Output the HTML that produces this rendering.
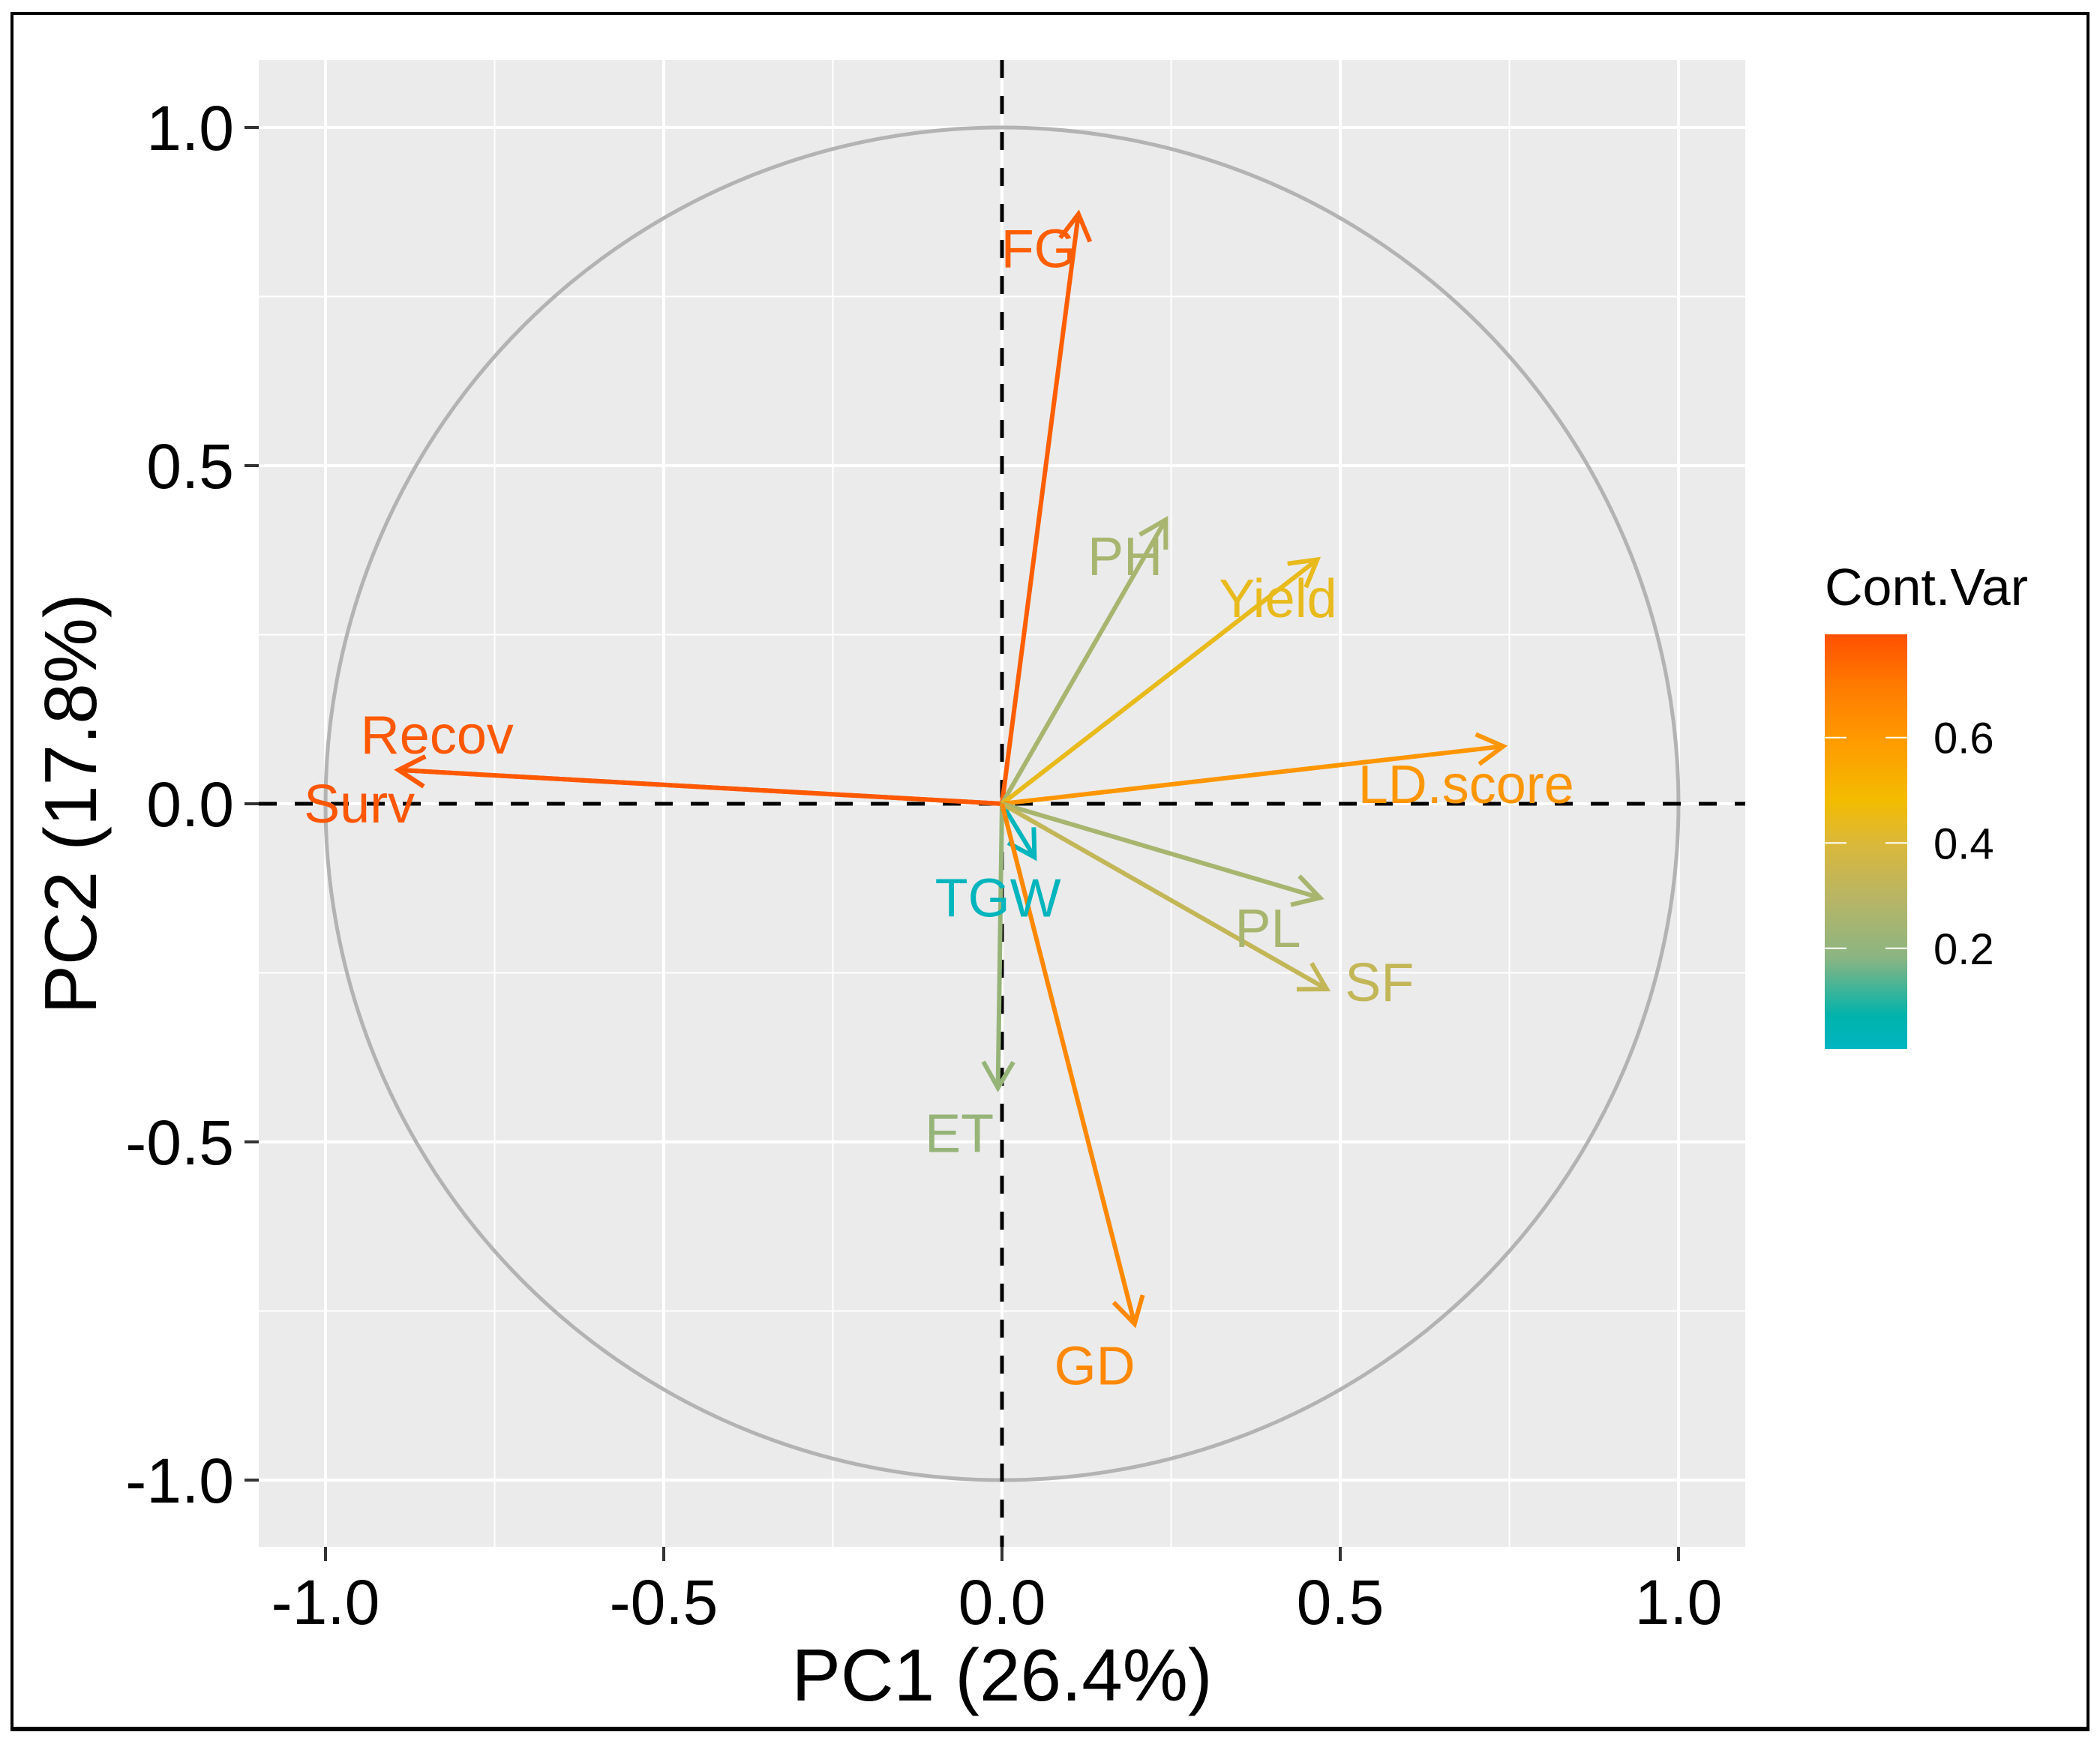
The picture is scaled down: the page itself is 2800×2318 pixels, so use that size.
<!DOCTYPE html>
<html><head><meta charset="utf-8">
<style>
html,body{margin:0;padding:0;background:#fff;}
svg{display:block;font-family:"Liberation Sans",Arial,sans-serif;}
</style></head>
<body>
<svg id="chart" width="2800" height="2318" viewBox="0 0 2800 2318" xmlns="http://www.w3.org/2000/svg">
<defs>
<linearGradient id="cgrad" x1="0" y1="1" x2="0" y2="0">
<stop offset="0" stop-color="#00b5c2"/>
<stop offset="0.08" stop-color="#00b3ab"/>
<stop offset="0.22" stop-color="#8bb582"/>
<stop offset="0.36" stop-color="#b7b566"/>
<stop offset="0.5" stop-color="#dcb838"/>
<stop offset="0.6" stop-color="#f3bc00"/>
<stop offset="0.75" stop-color="#ff9900"/>
<stop offset="0.87" stop-color="#ff7c00"/>
<stop offset="1" stop-color="#ff5000"/>
</linearGradient>
<clipPath id="panelclip"><rect x="345" y="80" width="1982" height="1983"/></clipPath>
</defs>
<rect x="16" y="18" width="2768" height="2287" fill="none" stroke="#000" stroke-width="4"/>
<line x1="14" y1="2306" x2="2786" y2="2306" stroke="#000" stroke-width="6"/>
<rect x="345" y="80" width="1982" height="1983" fill="#ebebeb"/>
<g id="grid"></g>
<g id="circle"></g>
<g id="zerolines"></g>
<g id="arrows" clip-path="url(#panelclip)"></g>
<g id="labels"></g>
<g id="axes"></g>
<text x="1336" y="2268" font-size="98" text-anchor="middle" fill="#000">PC1 (26.4%)</text>
<text transform="translate(128,1072) rotate(-90)" font-size="98" text-anchor="middle" fill="#000">PC2 (17.8%)</text>
<g>
<text x="2433" y="807" font-size="70" fill="#000">Cont.Var</text>
<rect x="2433" y="846" width="110" height="553" fill="url(#cgrad)"/>
<g id="legendticks"></g>
</g>
</svg>
<script>
const varNames = ["Surv","Recov","FG","PH","Yield","LD.score","TGW","PL","SF","ET","GD"];
const pc1 = [-0.892, -0.892, 0.113, 0.242, 0.466, 0.741, 0.048, 0.470, 0.480, -0.006, 0.196];
const pc2 = [0.050, 0.050, 0.872, 0.420, 0.361, 0.085, -0.079, -0.139, -0.274, -0.420, -0.769];
const contrib = [0.78, 0.77, 0.75, 0.25, 0.38, 0.55, 0.02, 0.25, 0.32, 0.2, 0.6];
const labelX = [-0.95, -0.835, 0.054, 0.182, 0.408, 0.686, -0.006, 0.393, 0.558, -0.063, 0.137];
const labelY = [0.0, 0.102, 0.821, 0.366, 0.304, 0.029, -0.139, -0.184, -0.264, -0.487, -0.831];
const axisTicks = [-1.0, -0.5, 0.0, 0.5, 1.0];
const tickLabels = ["-1.0","-0.5","0.0","0.5","1.0"];
const legendTicks = [0.2, 0.4, 0.6];
const legendTickLabels = ["0.2","0.4","0.6"];

const NS = "http://www.w3.org/2000/svg";
const X0 = 1336, Y0 = 1072, UNIT = 902;
const sx = v => X0 + v * UNIT;
const sy = v => Y0 - v * UNIT;
const LTOP = 846, LBOT = 1399, LMIN = 0.009, LMAX = 0.796;
const ly = v => LBOT - (v - LMIN) / (LMAX - LMIN) * (LBOT - LTOP);

const stops = [[0,[0,181,194]],[0.08,[0,179,171]],[0.2,[150,180,120]],[0.3,[183,181,102]],[0.36,[220,184,56]],[0.4,[243,188,0]],[0.5,[255,165,0]],[0.6,[255,136,0]],[0.8,[255,80,0]]];
function colorFor(v){
  for(let i=0;i<stops.length-1;i++){
    const a=stops[i],b=stops[i+1];
    if(v<=b[0]){const t=Math.max(0,(v-a[0])/(b[0]-a[0]));
      return "rgb("+a[1].map((c,k)=>Math.round(c+(b[1][k]-c)*t)).join(",")+")";}
  }
  return "rgb(255,80,0)";
}
function mk(tag, attrs, parent){
  const e=document.createElementNS(NS,tag);
  for(const k in attrs) e.setAttribute(k,attrs[k]);
  parent.appendChild(e); return e;
}
const grid=document.getElementById("grid");
const minor=[-0.75,-0.25,0.25,0.75];
minor.forEach(v=>{
  const l1=mk("line",{x1:sx(v),x2:sx(v),y1:80,y2:2063,stroke:"#fff","stroke-width":2},grid);
  
  
  const l2=mk("line",{x1:345,x2:2327,y1:sy(v),y2:sy(v),stroke:"#fff","stroke-width":2},grid);
  
  
});
axisTicks.forEach(v=>{
  const l1=mk("line",{x1:sx(v),x2:sx(v),y1:80,y2:2063,stroke:"#fff","stroke-width":4},grid);
  
  
  const l2=mk("line",{x1:345,x2:2327,y1:sy(v),y2:sy(v),stroke:"#fff","stroke-width":4},grid);
  
  
});
const circ=mk("circle",{cx:sx(0),cy:sy(0),r:UNIT,fill:"none",stroke:"#b3b3b3","stroke-width":5},document.getElementById("circle"));


const zl=document.getElementById("zerolines");
const zh=mk("line",{x1:345,x2:2327,y1:sy(0),y2:sy(0),stroke:"#000","stroke-width":5,"stroke-dasharray":"24,24"},zl);


const zv=mk("line",{x1:sx(0),x2:sx(0),y1:80,y2:2063,stroke:"#000","stroke-width":5,"stroke-dasharray":"24,24"},zl);



const ag=document.getElementById("arrows"), lg=document.getElementById("labels");
varNames.forEach((n,i)=>{
  const c=colorFor(contrib[i]);
  const x1=sx(0),y1=sy(0),x2=sx(pc1[i]),y2=sy(pc2[i]);
  const g=mk("g",{},ag);
  
  
  mk("line",{x1:x1,y1:y1,x2:x2,y2:y2,stroke:c,"stroke-width":6},g);
  const ang=Math.atan2(y2-y1,x2-x1), L=40, sp=Math.PI/6;
  const p=[[x2-L*Math.cos(ang-sp),y2-L*Math.sin(ang-sp)],[x2,y2],[x2-L*Math.cos(ang+sp),y2-L*Math.sin(ang+sp)]];
  mk("polyline",{points:p.map(q=>q.join(",")).join(" "),fill:"none",stroke:c,"stroke-width":6},g);
  const t=mk("text",{x:sx(labelX[i]),y:sy(labelY[i])+25,"font-size":72,"text-anchor":"middle",fill:c},lg);
  t.textContent=n;
  
  
});

const ax=document.getElementById("axes");
axisTicks.forEach((v,i)=>{
  const tx=mk("line",{x1:sx(v),x2:sx(v),y1:2063,y2:2082,stroke:"#333","stroke-width":4},ax);
  
  
  const lx=mk("text",{x:sx(v),y:2166,"font-size":84,"text-anchor":"middle",fill:"#000"},ax);
  lx.textContent=tickLabels[i];
  
  
  const ty=mk("line",{x1:326,x2:345,y1:sy(v),y2:sy(v),stroke:"#333","stroke-width":4},ax);
  
  
  const lyT=mk("text",{x:312,y:sy(v)+30,"font-size":84,"text-anchor":"end",fill:"#000"},ax);
  lyT.textContent=tickLabels[i];
  
  
});
const lt=document.getElementById("legendticks");
legendTicks.forEach((v,i)=>{
  const a=mk("line",{x1:2433,x2:2462,y1:ly(v),y2:ly(v),stroke:"#fff","stroke-width":2},lt);
  
  
  const b=mk("line",{x1:2514,x2:2543,y1:ly(v),y2:ly(v),stroke:"#fff","stroke-width":2},lt);
  
  
  const t=mk("text",{x:2578,y:ly(v)+21,"font-size":58,fill:"#000"},lt);
  t.textContent=legendTickLabels[i];
  
  
});
</script>
</body></html>
